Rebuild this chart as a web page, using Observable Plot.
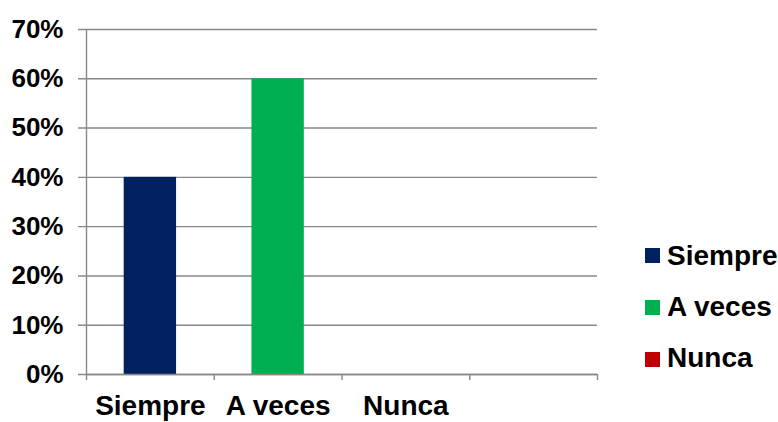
<!DOCTYPE html>
<html><head><meta charset="utf-8">
<script src="https://cdn.jsdelivr.net/npm/d3@7"></script>
<script src="https://cdn.jsdelivr.net/npm/@observablehq/plot@0.6"></script>
<style>
body{margin:0;background:#fff;font-family:"Liberation Sans",Arial,sans-serif;}
#wrap{position:relative;width:778px;height:422px;overflow:hidden;}
#legend{position:absolute;left:0;top:0;}
.sw{position:absolute;width:15px;height:15px;}
.lt{position:absolute;font-size:28px;font-weight:bold;line-height:28px;color:#000;white-space:nowrap;}
</style></head><body>
<div id="wrap"><div id="chart"></div><div id="legend"></div></div>
<script>
const categories = ["Siempre", "A veces", "Nunca"];
const values = [0.40, 0.60, 0.00];
const colors = ["#002060", "#00B050", "#C00000"];
const slotCount = 4; // three categories plus one empty slot
const yTicks = [0, 0.1, 0.2, 0.3, 0.4, 0.5, 0.6, 0.7];

const data = categories.map((c, i) => ({cat: c, i, value: values[i]}));
const barW = 0.41;
const pct = d => Math.round(d * 100) + "%";

const chart = Plot.plot({
  width: 778, height: 422,
  marginLeft: 86, marginRight: 181, marginTop: 29, marginBottom: 48,
  style: {fontFamily: "'Liberation Sans', Arial, sans-serif", background: "#fff", color: "#000"},
  x: {domain: [0, slotCount], axis: null, label: null},
  y: {domain: [0, 0.7], axis: null, label: null},
  color: {domain: categories, range: colors},
  marks: [
    Plot.gridY(yTicks, {stroke: "#888", strokeOpacity: 1, strokeWidth: 1.4, insetLeft: -8}),
    Plot.ruleX([0], {stroke: "#888", strokeWidth: 1.4}),
    Plot.rectY(data, {x1: d => d.i + (1 - barW) / 2, x2: d => d.i + (1 + barW) / 2, y1: 0, y2: "value", fill: "cat"}),
    Plot.ruleY([0], {stroke: "#888", strokeWidth: 1.4}),
    Plot.axisX({ticks: d3.range(slotCount + 1), tickSize: 6, stroke: "#888", strokeWidth: 1.4, tickFormat: () => "", label: null}),
    Plot.axisX({ticks: categories.map((c, i) => i + 0.5), tickSize: 0, tickPadding: 21, fontSize: 28, fontWeight: "bold", fill: "#000", label: null,
      tickFormat: d => categories[Math.floor(d)]}),
    Plot.axisY({ticks: yTicks, tickSize: 0, tickPadding: 23, fontSize: 26, fontWeight: "bold", fill: "#000", label: null, tickFormat: pct})
  ]
});
document.getElementById("chart").appendChild(chart);

const legend = document.getElementById("legend");
categories.forEach((c, i) => {
  const sw = document.createElement("div");
  sw.className = "sw";
  sw.style.left = "645px";
  sw.style.top = (248 + i * 52) + "px";
  sw.style.background = colors[i];
  legend.appendChild(sw);
  const t = document.createElement("div");
  t.className = "lt";
  t.style.left = "667px";
  t.style.top = (242 + i * 51) + "px";
  t.textContent = c;
  legend.appendChild(t);
});
</script>
</body></html>
